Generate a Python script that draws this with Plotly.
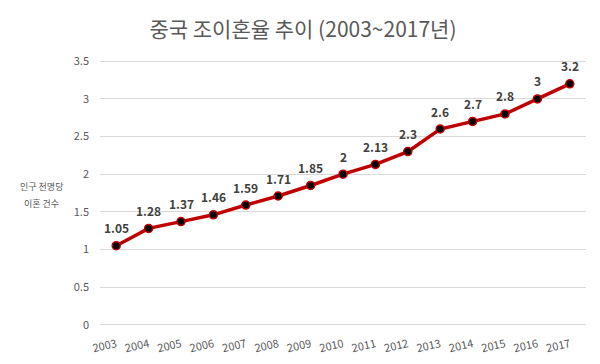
import plotly.graph_objects as go

years = [str(y) for y in range(2003, 2018)]
rates = [1.05, 1.28, 1.37, 1.46, 1.59, 1.71, 1.85, 2, 2.13, 2.3, 2.6, 2.7, 2.8, 3, 3.2]
labels = ["1.05", "1.28", "1.37", "1.46", "1.59", "1.71", "1.85", "2", "2.13", "2.3", "2.6", "2.7", "2.8", "3", "3.2"]
y_ticks = [0, 0.5, 1, 1.5, 2, 2.5, 3, 3.5]
y_ticktext = ["0", "0.5", "1", "1.5", "2", "2.5", "3", "3.5"]

FONT = "Noto Sans CJK KR"

fig = go.Figure()
fig.add_trace(go.Scatter(
    x=years, y=rates, mode="lines+markers",
    line=dict(color="#C00000", width=3.5),
    marker=dict(color="#000000", size=8, line=dict(color="#C00000", width=1.5)),
    cliponaxis=False, showlegend=False, hoverinfo="skip",
))

# category axis: annotation x uses the category's serial index
annotations = [
    dict(text=lab, x=i, y=v, xref="x", yref="y", yshift=18,
         xanchor="center", yanchor="middle", showarrow=False,
         font=dict(family=FONT, size=12, color="#404040", weight="bold"))
    for i, (v, lab) in enumerate(zip(rates, labels))
]
annotations += [
    dict(text="인구 천명당", xref="paper", yref="paper",
         x=-0.121, y=(327 - 186) / 268, xanchor="center", yanchor="middle",
         showarrow=False, font=dict(family=FONT, size=9, color="#595959")),
    dict(text="이혼 건수", xref="paper", yref="paper",
         x=-0.121, y=(327 - 203) / 268, xanchor="center", yanchor="middle",
         showarrow=False, font=dict(family=FONT, size=9, color="#595959")),
]

fig.update_layout(
    width=600, height=364,
    margin=dict(l=100, r=14, t=59, b=37, autoexpand=False),
    paper_bgcolor="white", plot_bgcolor="white",
    font=dict(family=FONT, color="#595959"),
    title=dict(text="중국 조이혼율 추이 (2003~2017년)", x=0.505, xanchor="center",
               y=1 - 30 / 364, yanchor="middle",
               font=dict(family=FONT, size=21, color="#595959")),
    xaxis=dict(type="category", range=[-0.5, 14.5], showgrid=False, showline=False, ticks="",
               tickangle=-13, tickfont=dict(size=11, color="#595959"),
               ticklabelstandoff=8, automargin=False),
    yaxis=dict(range=[-0.03, 3.53], tickvals=y_ticks, ticktext=y_ticktext,
               showgrid=True, gridcolor="#D9D9D9", gridwidth=1.3,
               zeroline=False, showline=False, ticks="", ticklabelstandoff=10,
               tickfont=dict(size=11, color="#595959"), automargin=False),
    annotations=annotations,
)

fig.write_html("out.html", config={"displayModeBar": False},
               post_script="document.body.style.margin='0';")
